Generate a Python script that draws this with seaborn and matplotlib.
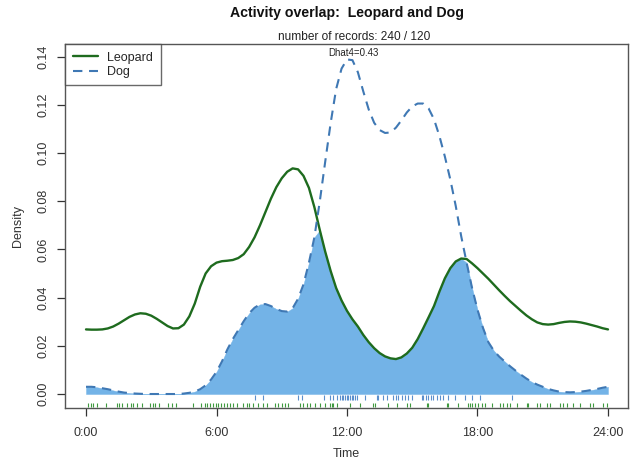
import numpy as np
import pandas as pd
import matplotlib
matplotlib.use("Agg")
import matplotlib.pyplot as plt
import seaborn as sns

# ---- data ----
hours = [i * 0.25 for i in range(97)]   # 0:00 .. 24:00, quarter-hour steps

leopard_density = [
    0.0268, 0.0267, 0.0267, 0.0268, 0.0272, 0.0280, 0.0292, 0.0306,   # 0-1.75
    0.0320, 0.0330, 0.0335, 0.0333, 0.0325, 0.0312, 0.0297, 0.0282,   # 2-3.75
    0.0272, 0.0273, 0.0288, 0.0322, 0.0375, 0.0445, 0.0500, 0.0530,   # 4-5.75
    0.0545, 0.0551, 0.0553, 0.0556, 0.0564, 0.0580, 0.0610, 0.0650,   # 6-7.75
    0.0700, 0.0755, 0.0810, 0.0858, 0.0895, 0.0922, 0.0936, 0.0932,   # 8-9.75
    0.0905, 0.0855, 0.0775, 0.0680, 0.0590, 0.0510, 0.0440, 0.0388,   # 10-11.75
    0.0345, 0.0310, 0.0280, 0.0245, 0.0215, 0.0190, 0.0170, 0.0156,   # 12-13.75
    0.0148, 0.0145, 0.0152, 0.0168, 0.0192, 0.0228, 0.0272, 0.0318,   # 14-15.75
    0.0365, 0.0425, 0.0480, 0.0522, 0.0550, 0.0562, 0.0560, 0.0542,   # 16-17.75
    0.0522, 0.0500, 0.0478, 0.0454, 0.0430, 0.0407, 0.0385, 0.0365,   # 18-19.75
    0.0345, 0.0326, 0.0310, 0.0297, 0.0290, 0.0288, 0.0290, 0.0295,   # 20-21.75
    0.0299, 0.0301, 0.0300, 0.0297, 0.0292, 0.0286, 0.0280, 0.0273,   # 22-23.75
    0.0268]

dog_density = [
    0.0030, 0.0030, 0.0028, 0.0024, 0.0020, 0.0015, 0.0010, 0.0006,   # 0-1.75
    0.0004, 0.0002, 0.0001, 0.0000, 0.0000, 0.0000, 0.0000, 0.0000,   # 2-3.75
    0.0000, 0.0000, 0.0002, 0.0005, 0.0010, 0.0020, 0.0036, 0.0060,   # 4-5.75
    0.0092, 0.0135, 0.0185, 0.0228, 0.0265, 0.0302, 0.0335, 0.0358,   # 6-7.75
    0.0372, 0.0373, 0.0365, 0.0353, 0.0344, 0.0342, 0.0356, 0.0395,   # 8-9.75
    0.0455, 0.0545, 0.0650, 0.0800, 0.0965, 0.1125, 0.1265, 0.1350,   # 10-11.75
    0.1388, 0.1385, 0.1335, 0.1255, 0.1180, 0.1125, 0.1095, 0.1083,   # 12-13.75
    0.1085, 0.1105, 0.1135, 0.1168, 0.1193, 0.1205, 0.1205, 0.1185,   # 14-15.75
    0.1140, 0.1070, 0.0985, 0.0890, 0.0780, 0.0655, 0.0545, 0.0440,   # 16-17.75
    0.0350, 0.0275, 0.0215, 0.0180, 0.0155, 0.0135, 0.0115, 0.0097,   # 18-19.75
    0.0080, 0.0064, 0.0050, 0.0039, 0.0030, 0.0021, 0.0015, 0.0010,   # 20-21.75
    0.0008, 0.0007, 0.0008, 0.0010, 0.0013, 0.0017, 0.0021, 0.0026,   # 22-23.75
    0.0030]

leopard_records = [0.11, 0.22, 0.33, 0.49, 0.92, 1.41, 1.53, 1.66, 1.87, 2.05,
                   2.18, 2.33, 2.56, 2.94, 3.07, 3.17, 3.37, 3.79, 3.94, 4.14,
                   4.93, 5.31, 5.47, 5.58, 5.70, 5.85, 5.97, 6.08, 6.19, 6.34,
                   6.47, 6.62, 6.77, 6.93, 7.23, 7.39, 7.51, 7.69, 7.93, 8.15,
                   8.31, 8.69, 8.84, 9.00, 9.15, 9.30, 9.84, 9.99, 10.15, 10.30,
                   10.53, 10.76, 10.99, 11.22, 11.30, 11.37, 11.52, 12.14, 12.60,
                   13.21, 13.29, 13.90, 14.28, 14.74, 14.90, 15.66, 15.74, 16.59,
                   16.66, 17.12, 17.58, 17.66, 17.73, 17.88, 18.04, 18.19, 18.34,
                   18.65, 19.03, 19.19, 19.34, 19.49, 19.80, 20.26, 20.33, 20.72,
                   20.87, 21.18, 21.33, 21.79, 21.95, 22.10, 22.41, 22.71, 23.17,
                   23.33, 23.79, 23.94]

dog_records = [7.77, 8.12, 9.76, 9.92, 10.95, 11.22, 11.37, 11.53, 11.68, 11.75,
               11.83, 11.91, 11.99, 12.06, 12.14, 12.21, 12.29, 12.37, 12.45,
               12.83, 13.36, 13.44, 13.67, 13.82, 14.13, 14.25, 14.36, 14.51,
               14.66, 14.82, 14.97, 15.43, 15.51, 15.63, 15.74, 15.84, 15.97,
               16.12, 16.27, 16.43, 16.66, 16.97, 17.42, 17.73, 18.11, 19.57]

x_ticks = [0, 6, 12, 18, 24]
x_tick_labels = ["0:00", "6:00", "12:00", "18:00", "24:00"]
y_ticks = [0.00, 0.02, 0.04, 0.06, 0.08, 0.10, 0.12, 0.14]
y_tick_labels = ["0.00", "0.02", "0.04", "0.06", "0.08", "0.10", "0.12", "0.14"]
species = ["Leopard", "Dog"]

# ---- styling ----
sns.set_style("white")
plt.rcParams["font.family"] = ["Liberation Sans", "DejaVu Sans"]

green = "#1e6b1e"
blue = "#3f78b4"
fill_col = "#73b3e7"

fig = plt.figure(figsize=(6.3, 4.65), dpi=100)
ax = fig.add_axes([65 / 630, 57 / 465, 563 / 630, 364 / 465])

df = pd.DataFrame({
    "Time": hours * 2,
    "Density": leopard_density + dog_density,
    "Species": [species[0]] * len(hours) + [species[1]] * len(hours),
})

# overlap area
ax.fill_between(hours, 0, np.minimum(leopard_density, dog_density),
                facecolor=fill_col, edgecolor=fill_col, linewidth=0.3, zorder=1)

sns.lineplot(data=df[df.Species == "Leopard"], x="Time", y="Density",
             color=green, linewidth=1.7, ax=ax, label="Leopard", zorder=3)
sns.lineplot(data=df[df.Species == "Dog"], x="Time", y="Density",
             color=blue, linewidth=1.5, ax=ax, label="Dog", zorder=3)
ax.lines[-1].set_linestyle((0, (4.5, 3.2)))

# rug
ax.vlines(dog_records, -0.0024, -0.0006, color="#5b8fcc", linewidth=0.8, zorder=2)
ax.vlines(leopard_records, -0.0053, -0.0038, color="#3f9a3f", linewidth=0.8, zorder=2)

ax.set_xlim(-0.966, 24.92)
ax.set_ylim(-0.0058, 0.1452)

ax.set_xticks(x_ticks)
ax.set_xticklabels(x_tick_labels)
ax.set_yticks(y_ticks)
ax.set_yticklabels(y_tick_labels, rotation=90, va="center")
ax.tick_params(axis="both", which="both", direction="out", length=6,
               width=0.9, color="#333333", labelsize=9, labelcolor="#333333",
               bottom=True, left=True, pad=5)
ax.tick_params(axis="x", pad=8)

for s in ax.spines.values():
    s.set_visible(True)
    s.set_color("#555555")
    s.set_linewidth(1.0)

ax.set_xlabel("Time", fontsize=9, color="#333333", labelpad=6)
ax.set_ylabel("Density", fontsize=9, color="#333333", labelpad=10)

fig.text(347 / 630, 1 - 13 / 465, "Activity overlap:  Leopard and Dog",
         ha="center", va="center", fontsize=10.2, fontweight="bold", color="#111111")
fig.text(354 / 630, 1 - 37 / 465, "number of records: 240 / 120",
         ha="center", va="center", fontsize=8.6, color="#222222")
ax.text(12.3, 0.1415, "Dhat4=0.43", ha="center", va="center", fontsize=7,
        color="#222222", zorder=4)

leg = ax.legend(loc="upper left", frameon=True, fancybox=False, fontsize=9,
                borderaxespad=0, handlelength=2.0, borderpad=0.6,
                labelspacing=0.2, handletextpad=0.8)
leg.get_frame().set_edgecolor("#444444")
leg.get_frame().set_linewidth(1.0)

fig.savefig("out.png", dpi=100, facecolor="white")
